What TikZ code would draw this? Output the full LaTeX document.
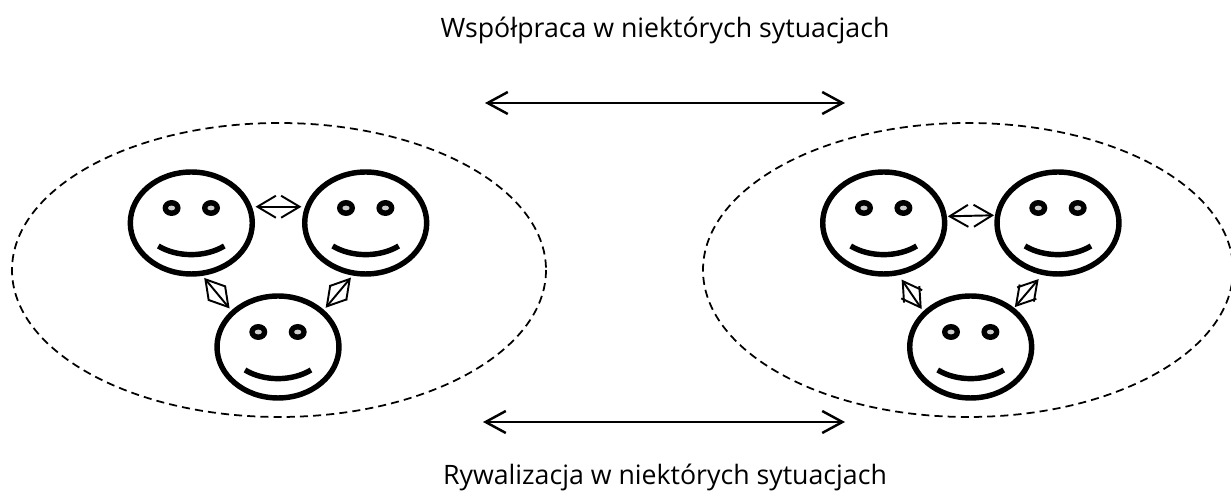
\documentclass[tikz,border=0pt]{standalone}
\usepackage{fontspec}
\setmainfont{Open Sans}
\usetikzlibrary{shapes,arrows.meta}

\tikzset{
    face/.style={draw, ellipse, line width=3.1pt, minimum width=2.44cm, minimum height=2.04cm, inner sep=0pt},
    group/.style={line width=1pt, dash pattern=on 4.6pt off 2.9pt},
    barbs/.style={{Straight Barb[length=#1,width=12.5pt]}-{Straight Barb[length=#1,width=12.5pt]}},
    link/.style={line width=1.1pt, barbs=10.5pt, shorten <=1.5pt, shorten >=1.5pt},
    relation/.style={line width=1.4pt, barbs=11.5pt},
    caption/.style={font=\fontsize{15.2pt}{18pt}\selectfont, inner sep=0pt}
}
\newcommand{\smiley}[3]{%
    \node[face] (#1) at (#2,#3) {};
    \fill[black] (#2-19.7,#3-15) ellipse (9 and 8);
    \fill[black] (#2+19.7,#3-15) ellipse (9 and 8);
    \fill[black!20] (#2-19.7,#3-15) ellipse (3.6 and 2.4);
    \fill[black!20] (#2+19.7,#3-15) ellipse (3.6 and 2.4);
    \draw[line width=3.1pt] (#2-33,#3+23) .. controls (#2-14,#3+34.5) and (#2+14,#3+34.5) .. (#2+33,#3+23);
}

\begin{document}
\begin{tikzpicture}[x=0.02cm,y=-0.02cm]
    \useasboundingbox (0,0) rectangle (1231,492);

    % dashed groups
    \draw[group] (279,270) ellipse (267 and 147);
    \draw[group] (968,270) ellipse (265 and 147);

    % left group
    \smiley{faceA}{191.3}{223}
    \smiley{faceB}{365.7}{223}
    \smiley{faceC}{278}{347}
    \draw[link, shorten <=2pt, shorten >=2pt] (faceA.15) -- (faceB.165);
    \draw[link] (faceA.-78) -- (faceC.142);
    \draw[link] (faceB.-104) -- (faceC.39);

    % right group
    \smiley{faceD}{883.7}{223}
    \smiley{faceE}{1058}{223}
    \smiley{faceF}{970.7}{347}
    \draw[link, shorten <=0.5pt, shorten >=0.5pt] (faceD.6.5) -- (faceE.173.5);
    \draw[link, shorten <=3pt] (faceD.-74) -- (faceF.143);
    \draw[link, shorten <=3pt, shorten >=0.5pt] (faceE.-107) -- (faceF.42);

    % relations between the groups
    \coordinate (topL) at (485,103);
    \coordinate (topR) at (845,103);
    \coordinate (botL) at (483,422);
    \coordinate (botR) at (845,422);
    \draw[relation] (topL) -- (topR);
    \draw[relation] (botL) -- (botR);

    % captions
    \node[caption] (cooperation) at (665,30) {Współpraca w niektórych sytuacjach};
    \node[caption] (rivalry) at (665,477) {Rywalizacja w niektórych sytuacjach};
\end{tikzpicture}
\end{document}
